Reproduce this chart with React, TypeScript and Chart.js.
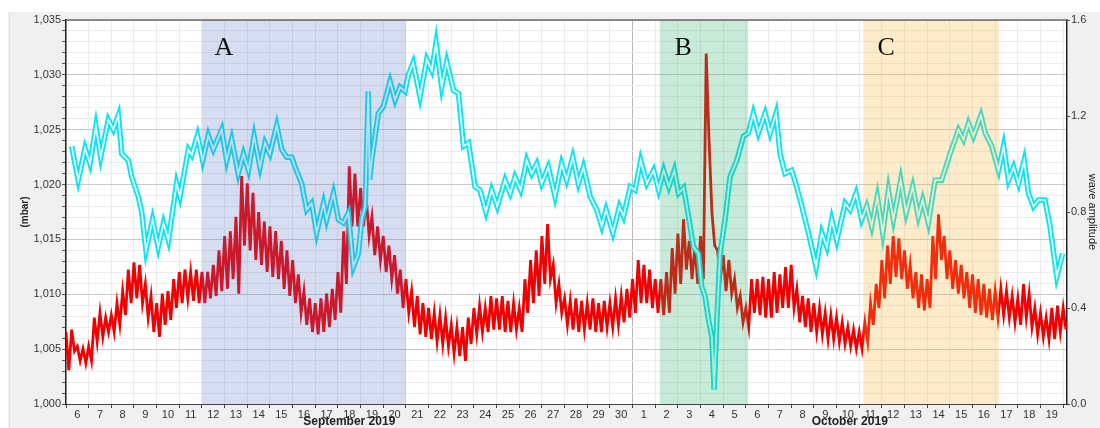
import React, { useEffect, useRef } from 'react';
import { Chart, registerables } from 'chart.js';

Chart.register(...registerables);

// ---------- data ----------
const dayLabels = [
  '6', '7', '8', '9', '10', '11', '12', '13', '14', '15', '16', '17', '18', '19', '20',
  '21', '22', '23', '24', '25', '26', '27', '28', '29', '30',
  '1', '2', '3', '4', '5', '6', '7', '8', '9', '10', '11', '12', '13', '14', '15', '16', '17', '18', '19',
];
const monthNames = ['September 2019', 'October 2019'];
const monthStartDay = [0, 25];
const monthEndDay = [25, 44.17];
const xMaxDay = 44.17;

const regionNames = ['A', 'B', 'C'];
const regionStartDay = [6, 26.2, 35.18];
const regionEndDay = [15, 30.1, 41.17];
const regionLabelDay = [6.97, 27.23, 36.19];

const pressureTicks = [1000, 1005, 1010, 1015, 1020, 1025, 1030, 1035];
const amplitudeTicks = [0, 0.4, 0.8, 1.2, 1.6];

// sea-level pressure (mbar), day offset from 6 Sep 00:00
const pressureDays = [
  0.25, 0.54, 0.84, 1.06, 1.32, 1.53, 1.87, 2.09, 2.31, 2.46, 2.75, 2.9, 3.19, 3.34, 3.53, 3.82, 4.07, 4.3, 4.52, 4.88,
  5.03, 5.4, 5.55, 5.8, 6.03, 6.28, 6.5, 6.87, 7.09, 7.31, 7.6, 7.83, 8.05, 8.3, 8.56, 8.78, 9.0, 9.3, 9.52, 9.74,
  9.96, 10.11, 10.4, 10.62, 10.84, 11.06, 11.36, 11.5, 11.8, 12.02, 12.24, 12.46, 12.68, 12.9, 13.05, 13.2, 13.34, 13.4, 13.49, 13.78,
  14.0, 14.3, 14.52, 14.74, 14.96, 15.11, 15.32, 15.62, 15.92, 16.14, 16.33, 16.58, 16.8, 17.1, 17.32, 17.54, 17.76, 18.05, 18.27, 18.53,
  18.78, 19.03, 19.37, 19.6, 19.81, 20.06, 20.33, 20.55, 20.77, 20.99, 21.28, 21.58, 21.87, 22.09, 22.36, 22.61, 22.83, 23.13, 23.42, 23.64,
  23.83, 24.13, 24.42, 24.6, 24.9, 25.11, 25.36, 25.63, 25.93, 26.15, 26.37, 26.6, 26.84, 27.03, 27.25, 27.42, 27.69, 27.91, 28.05, 28.2,
  28.35, 28.5, 28.6, 28.72, 28.86, 29.08, 29.3, 29.6, 29.89, 30.11, 30.33, 30.55, 30.85, 31.07, 31.33, 31.51, 31.73, 32.02, 32.24, 32.47,
  32.76, 33.1, 33.35, 33.57, 33.79, 34.01, 34.38, 34.6, 34.86, 35.11, 35.33, 35.55, 35.8, 36.04, 36.29, 36.51, 36.83, 37.07, 37.36, 37.61,
  37.8, 38.05, 38.35, 38.64, 39.01, 39.38, 39.6, 39.82, 40.04, 40.37, 40.56, 40.85, 41.15, 41.37, 41.59, 41.81, 42.03, 42.28, 42.47, 42.69,
  42.91, 43.2, 43.42, 43.72, 43.98,
];
const pressureValues = [
  1023.5, 1020.4, 1023.3, 1021.9, 1025.3, 1022.5, 1025.9, 1025.0, 1026.3, 1022.8, 1022.2, 1020.7, 1018.9, 1017.5, 1014.0, 1016.8, 1014.3, 1016.5, 1014.9, 1020.1,
  1018.9, 1023.2, 1022.7, 1024.5, 1022.2, 1024.5, 1023.2, 1025.0, 1022.2, 1024.1, 1021.0, 1022.8, 1021.3, 1024.4, 1021.6, 1023.8, 1022.8, 1025.4, 1023.2, 1022.5,
  1022.5, 1021.6, 1020.1, 1017.7, 1018.3, 1015.6, 1018.3, 1016.8, 1019.2, 1016.8, 1016.5, 1017.4, 1012.5, 1013.7, 1016.8, 1018.0, 1028.5, 1020.5, 1022.2, 1026.5,
  1027.1, 1029.4, 1027.7, 1028.9, 1028.5, 1030.0, 1031.1, 1028.0, 1031.4, 1030.4, 1032.9, 1028.9, 1031.2, 1028.6, 1028.3, 1023.5, 1023.8, 1019.8, 1019.5, 1017.5,
  1019.5, 1018.0, 1020.4, 1019.2, 1020.7, 1019.5, 1022.2, 1021.0, 1021.9, 1020.1, 1021.6, 1018.9, 1021.9, 1020.4, 1022.5, 1020.1, 1021.6, 1018.9, 1017.7, 1016.2,
  1017.7, 1015.6, 1018.0, 1017.1, 1019.8, 1019.5, 1022.2, 1020.1, 1021.3, 1019.5, 1021.3, 1019.8, 1021.3, 1019.2, 1019.7, 1017.7, 1014.3, 1013.7, 1010.7, 1009.8,
  1007.7, 1006.1, 1001.3, 1007.7, 1013.7, 1016.8, 1020.7, 1022.2, 1024.4, 1024.7, 1026.5, 1024.7, 1026.5, 1024.7, 1026.5, 1022.8, 1021.0, 1021.3, 1019.8, 1018.0,
  1015.6, 1012.5, 1015.6, 1014.3, 1016.8, 1014.9, 1018.3, 1017.7, 1019.2, 1016.8, 1018.0, 1016.2, 1018.9, 1015.6, 1019.5, 1016.8, 1020.4, 1017.4, 1019.8, 1017.1,
  1018.6, 1016.5, 1020.4, 1020.4, 1022.8, 1025.0, 1024.1, 1025.6, 1024.4, 1026.3, 1024.7, 1023.5, 1021.3, 1023.5, 1020.4, 1021.6, 1020.1, 1022.2, 1019.2, 1018.0,
  1018.6, 1018.6, 1016.2, 1011.6, 1013.7,
];

// wave amplitude: high / low readings within each quarter day from 6 Sep 00:00
const waveStepDays = 0.25;
const waveUpper = [
  0.30, 0.31, 0.24, 0.23, 0.24, 0.36, 0.38, 0.36, 0.37, 0.42, 0.47, 0.56, 0.59, 0.58, 0.50, 0.45, 0.42, 0.46, 0.47, 0.52,
  0.55, 0.56, 0.55, 0.56, 0.55, 0.55, 0.58, 0.64, 0.70, 0.72, 0.78, 0.95, 0.92, 0.88, 0.80, 0.76, 0.74, 0.72, 0.68, 0.64,
  0.60, 0.54, 0.47, 0.44, 0.42, 0.44, 0.46, 0.48, 0.55, 0.72, 0.99, 0.96, 0.90, 0.86, 0.78, 0.74, 0.70, 0.66, 0.62, 0.56,
  0.52, 0.47, 0.45, 0.42, 0.40, 0.38, 0.37, 0.36, 0.33, 0.32, 0.32, 0.36, 0.40, 0.41, 0.40, 0.45, 0.44, 0.45, 0.43, 0.42,
  0.40, 0.52, 0.60, 0.64, 0.70, 0.75, 0.58, 0.50, 0.44, 0.43, 0.44, 0.43, 0.42, 0.44, 0.42, 0.43, 0.42, 0.44, 0.45, 0.48,
  0.52, 0.60, 0.58, 0.56, 0.52, 0.52, 0.55, 0.65, 0.71, 0.77, 0.68, 0.66, 0.70, 1.46, 0.80, 0.64, 0.62, 0.60, 0.52, 0.45,
  0.40, 0.52, 0.52, 0.53, 0.52, 0.55, 0.54, 0.57, 0.58, 0.48, 0.45, 0.44, 0.42, 0.40, 0.38, 0.37, 0.36, 0.34, 0.32, 0.31,
  0.30, 0.34, 0.42, 0.50, 0.60, 0.66, 0.70, 0.69, 0.64, 0.58, 0.55, 0.54, 0.52, 0.70, 0.79, 0.70, 0.64, 0.60, 0.58, 0.55,
  0.54, 0.52, 0.50, 0.48, 0.47, 0.48, 0.47, 0.45, 0.44, 0.50, 0.46, 0.40, 0.38, 0.36, 0.40, 0.41, 0.40,
];
const waveLower = [
  0.14, 0.22, 0.18, 0.17, 0.18, 0.26, 0.28, 0.30, 0.30, 0.33, 0.37, 0.42, 0.44, 0.42, 0.36, 0.30, 0.28, 0.33, 0.35, 0.40,
  0.42, 0.44, 0.43, 0.42, 0.42, 0.44, 0.45, 0.47, 0.48, 0.52, 0.46, 0.66, 0.64, 0.60, 0.58, 0.55, 0.53, 0.52, 0.48, 0.45,
  0.42, 0.38, 0.33, 0.30, 0.29, 0.30, 0.32, 0.35, 0.38, 0.50, 0.74, 0.74, 0.74, 0.70, 0.62, 0.60, 0.55, 0.52, 0.46, 0.40,
  0.38, 0.32, 0.29, 0.28, 0.27, 0.26, 0.25, 0.24, 0.21, 0.20, 0.18, 0.25, 0.29, 0.30, 0.30, 0.31, 0.31, 0.30, 0.30, 0.31,
  0.30, 0.38, 0.42, 0.45, 0.50, 0.52, 0.42, 0.38, 0.33, 0.31, 0.30, 0.31, 0.31, 0.30, 0.30, 0.32, 0.32, 0.33, 0.34, 0.36,
  0.38, 0.42, 0.42, 0.40, 0.38, 0.37, 0.38, 0.46, 0.50, 0.56, 0.52, 0.50, 0.52, 1.10, 0.66, 0.52, 0.47, 0.46, 0.40, 0.34,
  0.32, 0.38, 0.37, 0.36, 0.36, 0.38, 0.40, 0.40, 0.40, 0.34, 0.32, 0.30, 0.30, 0.29, 0.27, 0.27, 0.26, 0.25, 0.24, 0.23,
  0.23, 0.26, 0.33, 0.40, 0.44, 0.50, 0.53, 0.52, 0.48, 0.44, 0.40, 0.39, 0.40, 0.52, 0.60, 0.52, 0.48, 0.46, 0.44, 0.40,
  0.38, 0.37, 0.36, 0.35, 0.36, 0.37, 0.36, 0.34, 0.33, 0.36, 0.32, 0.29, 0.28, 0.27, 0.27, 0.30, 0.31,
];

// ---------- styles ----------
const CYAN = 'rgb(10,228,240)';
const RED = '#f00000';
const REGION_COLORS = ['rgba(78,108,196,0.23)', 'rgba(35,171,99,0.25)', 'rgba(247,179,47,0.25)'];
const SANS = '"Liberation Sans", Arial, sans-serif';
const SERIF = '"Liberation Serif", "Times New Roman", serif';

const fmtMbar = (v: number) => `${Math.floor(v / 1000)},${String(Math.round(v % 1000)).padStart(3, '0')}`;

const decorPlugin = {
  id: 'decor',
  beforeDraw(chart: any) {
    const { ctx, chartArea } = chart;
    ctx.save();
    ctx.fillStyle = '#ffffff';
    ctx.fillRect(0, 0, chart.width, chart.height);
    ctx.fillStyle = '#f0f0f0';
    ctx.fillRect(8, 12, chart.width - 8, chart.height - 12);
    ctx.fillStyle = '#e2e2e2';
    ctx.fillRect(9, 12, 1, chart.height - 12);
    ctx.fillStyle = '#ffffff';
    ctx.fillRect(chartArea.left, chartArea.top, chartArea.right - chartArea.left, chartArea.bottom - chartArea.top);
    ctx.restore();
  },
  afterDatasetsDraw(chart: any) {
    const { ctx, chartArea } = chart;
    const xs = chart.scales.x;
    ctx.save();
    regionNames.forEach((name, i) => {
      const x0 = xs.getPixelForValue(regionStartDay[i]);
      const x1 = xs.getPixelForValue(regionEndDay[i]);
      ctx.fillStyle = REGION_COLORS[i];
      ctx.fillRect(x0, chartArea.top, x1 - x0, chartArea.bottom - chartArea.top);
    });
    ctx.fillStyle = '#111';
    ctx.font = `26px ${SERIF}`;
    ctx.textAlign = 'center';
    ctx.textBaseline = 'middle';
    regionNames.forEach((name, i) => {
      ctx.fillText(name, xs.getPixelForValue(regionLabelDay[i]), chartArea.top + 28);
    });
    // top frame line
    ctx.strokeStyle = '#6a6a6a';
    ctx.lineWidth = 1.5;
    ctx.beginPath();
    ctx.moveTo(chartArea.left, chartArea.top);
    ctx.lineTo(chartArea.right, chartArea.top);
    ctx.stroke();
    ctx.restore();
  },
  afterDraw(chart: any) {
    const { ctx, chartArea } = chart;
    const xs = chart.scales.x;
    ctx.save();
    ctx.fillStyle = '#222';
    ctx.font = `bold 12px ${SANS}`;
    ctx.textAlign = 'center';
    ctx.textBaseline = 'middle';
    monthNames.forEach((m, i) => {
      const cx = xs.getPixelForValue((monthStartDay[i] + monthEndDay[i]) / 2);
      ctx.fillText(m, cx, 422);
    });
    const midY = (chartArea.top + chartArea.bottom) / 2;
    ctx.translate(25, midY);
    ctx.rotate(-Math.PI / 2);
    ctx.font = `bold 10px ${SANS}`;
    ctx.fillText('(mbar)', 0, 0);
    ctx.restore();
    ctx.save();
    ctx.fillStyle = '#222';
    ctx.font = `11px ${SANS}`;
    ctx.textAlign = 'center';
    ctx.textBaseline = 'middle';
    ctx.translate(1092, midY);
    ctx.rotate(Math.PI / 2);
    ctx.fillText('wave amplitude', 0, 0);
    ctx.restore();
  },
};

export default function App() {
  const ref = useRef<HTMLCanvasElement | null>(null);

  useEffect(() => {
    document.body.style.margin = '0';
    const canvas = ref.current;
    if (!canvas) return;
    const pressurePts = pressureDays.map((d, i) => ({ x: d, y: pressureValues[i] }));
    // each quarter day: its high reading, then its low reading half a step later
    const wavePts = waveUpper.flatMap((u, i) => [
      { x: i * waveStepDays, y: u },
      { x: i * waveStepDays + waveStepDays / 2, y: waveLower[i] },
    ]);

    const chart = new Chart(canvas, {
      type: 'line',
      data: {
        datasets: [
          {
            label: 'pressure inner',
            data: pressurePts,
            yAxisID: 'y',
            borderColor: 'rgba(255,255,255,0.9)',
            borderWidth: 1.8,
            pointRadius: 0,
            tension: 0,
            order: 0,
          },
          {
            label: 'pressure',
            data: pressurePts,
            yAxisID: 'y',
            borderColor: CYAN,
            borderWidth: 5.5,
            pointRadius: 0,
            tension: 0,
            order: 1,
          },
          {
            label: 'wave amplitude',
            data: wavePts,
            yAxisID: 'y2',
            borderColor: RED,
            borderWidth: 2.8,
            borderJoinStyle: 'miter',
            pointRadius: 0,
            tension: 0,
            fill: false,
            order: 2,
          },
        ],
      },
      options: {
        responsive: false,
        animation: false,
        devicePixelRatio: 1,
        layout: { padding: { left: 8, top: 20, right: 0, bottom: 0 } },
        plugins: { legend: { display: false }, tooltip: { enabled: false } },
        scales: {
          x: {
            type: 'linear',
            min: 0,
            max: xMaxDay,
            afterBuildTicks: (s: any) => {
              const t = dayLabels.map((_, i) => ({ value: i }));
              t.push({ value: dayLabels.length });
              s.ticks = t;
            },
            afterFit: (s: any) => { s.height = 24; },
            ticks: {
              autoSkip: false,
              maxRotation: 0,
              minRotation: 0,
              labelOffset: 11.33,
              padding: 0,
              color: '#333',
              font: { family: SANS, size: 11 },
              callback: (v: any) => dayLabels[v] ?? '',
            },
            grid: {
              color: (c: any) => (c.tick && c.tick.value === monthStartDay[1] ? '#b8b8b8' : '#ebebeb'),
              tickColor: '#444',
              tickLength: 4,
            },
            border: { color: '#444', width: 1 },
          },
          y: {
            position: 'left',
            min: 1000,
            max: 1035,
            afterBuildTicks: (s: any) => {
              const t = [];
              for (let v = 1000; v <= 1035; v++) t.push({ value: v });
              s.ticks = t;
            },
            afterFit: (s: any) => { s.width = 58; },
            ticks: {
              autoSkip: false,
              padding: 1,
              color: '#333',
              font: { family: SANS, size: 11 },
              callback: (v: any) => (pressureTicks.includes(v) ? fmtMbar(v) : ''),
            },
            grid: {
              color: (c: any) => (c.tick && pressureTicks.includes(c.tick.value) ? '#c9c9c9' : '#ececec'),
              tickColor: '#555',
              tickLength: 4,
            },
            border: { color: '#222', width: 1.5 },
          },
          y2: {
            position: 'right',
            min: 0,
            max: 1.6,
            afterBuildTicks: (s: any) => { s.ticks = amplitudeTicks.map((v) => ({ value: v })); },
            afterFit: (s: any) => { s.width = 33; },
            ticks: {
              autoSkip: false,
              padding: 1,
              color: '#333',
              font: { family: SANS, size: 11 },
              callback: (v: any) => Number(v).toFixed(1),
            },
            grid: { drawOnChartArea: false, tickColor: '#444', tickLength: 3 },
            border: { color: '#222', width: 1.5 },
          },
        },
      },
      plugins: [decorPlugin],
    } as any);
    return () => chart.destroy();
  }, []);

  return (
    <div style={{ position: 'relative', width: 1100, height: 428 }}>
      <canvas ref={ref} width={1100} height={428} style={{ display: 'block' }} />
    </div>
  );
}
